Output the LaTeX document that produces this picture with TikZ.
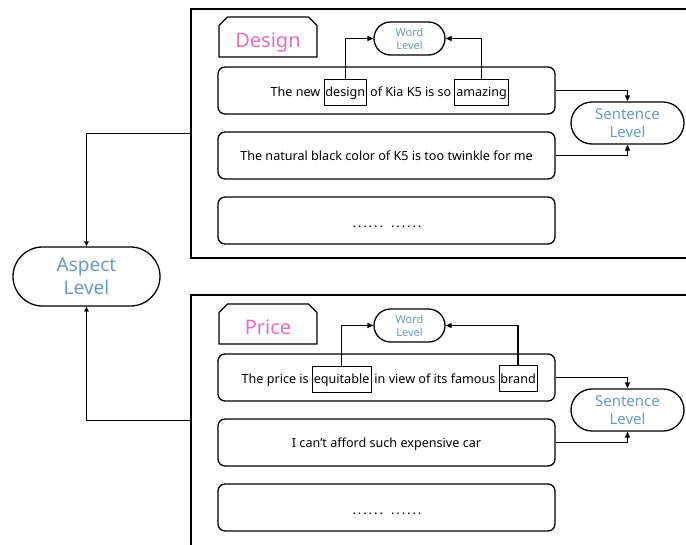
\documentclass[tikz,border=0pt]{standalone}
\usepackage{fontspec}
\setmainfont{Noto Sans}
\usetikzlibrary{shapes.misc, arrows.meta}
\definecolor{pinkc}{HTML}{E86CC0}
\definecolor{bluec}{HTML}{6B9AC9}
\newcommand{\sixdots}{.\kern1.9pt.\kern1.9pt.\kern1.9pt.\kern1.9pt.\kern1.9pt.}
\begin{document}
\begin{tikzpicture}[x=1pt,y=-1pt,
  line width=1.3pt,
  sent/.style={draw, rounded corners=7pt, minimum width=337pt, minimum height=47pt, inner sep=0pt, font=\fontsize{12.6}{15}\selectfont},
  pill/.style={draw, rounded rectangle, inner sep=0pt, text=bluec, align=center},
  wordlvl/.style={pill, minimum width=71pt, minimum height=33pt, font=\fontsize{11}{13}\selectfont},
  sentlvl/.style={pill, minimum width=113pt, minimum height=42pt, font=\fontsize{15}{18}\selectfont},
  tag/.style={draw, chamfered rectangle, chamfered rectangle corners={north west,north east}, chamfered rectangle xsep=5pt, minimum width=98pt, minimum height=40pt, inner sep=0pt, text=pinkc, text height=20pt, text depth=0pt, font=\fontsize{20}{24}\selectfont},
  txt/.style={inner sep=0pt, font=\fontsize{12.6}{15}\selectfont},
  dots/.style={txt, font=\fontsize{13}{15}\bfseries},
  wbox/.style={draw, line width=0.8pt, inner xsep=1.5pt, minimum height=26pt, font=\fontsize{12.6}{15}\selectfont},
  arr/.style={-{Triangle[length=6pt,width=5pt]}, line width=1.3pt},
  thinarr/.style={-{Triangle[length=5pt,width=4.5pt]}, line width=1pt},
]
\useasboundingbox (0,0) rectangle (686,544);
% frames
\draw (687,9) -- (191,9) -- (191,258) -- (687,258);
\draw (687,295) -- (191,295) -- (191,545);
% aspect
\node[pill, minimum width=147pt, minimum height=59pt, font=\fontsize{19}{23}\selectfont] (asp) at (86.5,276.5) {Aspect\\Level};
\coordinate (f1) at (191,133);
\coordinate (f2) at (191,420);
\draw[thinarr] (f1) -| (asp.north);
\draw[thinarr] (f2) -| (asp.south);
% ---------- Design ----------
\node[tag] (tag1) at (268,37) {Design};
\node[wordlvl] (wl1) at (409.5,38.5) {Word\\Level};
\node[sentlvl] (sl1) at (627.5,123) {Sentence\\Level};
\node[sent] (s11) at (386.5,90.5) {};
\node[sent] (s12) at (386.5,155.5) {};
\node[txt, anchor=base] (t12) at (386.5,160) {The natural black color of K5 is too twinkle for me};
\node[sent] (s13) at (386.5,220.5) {};
\node[dots, anchor=base] (d13) at (387,227) {\sixdots\hspace{8pt}\sixdots};
\node[txt, anchor=base west] (p11) at (270,96) {The new};
\node[wbox, anchor=base west] (w11) at ([xshift=2.5pt]p11.base east) {design};
\node[txt, anchor=base west] (p12) at ([xshift=2.5pt]w11.base east) {of Kia K5 is so};
\node[wbox, anchor=base west] (w12) at ([xshift=2.5pt]p12.base east) {amazing};
\draw[arr] (w11.north) |- (wl1.west);
\draw[arr] (w12.north) |- (wl1.east);
\draw[arr] (s11.east) -| (sl1.north);
\draw[arr] (s12.east) -| (sl1.south);
% ---------- Price ----------
\node[tag] (tag2) at (268,324) {Price};
\node[wordlvl] (wl2) at (409.5,325.5) {Word\\Level};
\node[sentlvl] (sl2) at (627.5,410) {Sentence\\Level};
\node[sent] (s21) at (386.5,377.5) {};
\node[sent] (s22) at (386.5,442.5) {};
\node[txt, anchor=base] (t22) at (386.5,447.5) {I can’t afford such expensive car};
\node[sent] (s23) at (386.5,507.5) {};
\node[dots, anchor=base] (d23) at (387,514) {\sixdots\hspace{8pt}\sixdots};
\node[txt, anchor=base west] (p21) at (241,383) {The price is};
\node[wbox, anchor=base west] (w21) at ([xshift=2.5pt]p21.base east) {equitable};
\node[txt, anchor=base west] (p22) at ([xshift=2.5pt]w21.base east) {in view of its famous};
\node[wbox, anchor=base west] (w22) at ([xshift=2.5pt]p22.base east) {brand};
\draw[arr] (w21.north) |- (wl2.west);
\draw[arr] (w22.north) |- (wl2.east);
\draw[arr] (s21.east) -| (sl2.north);
\draw[arr] (s22.east) -| (sl2.south);
\end{tikzpicture}
\end{document}
